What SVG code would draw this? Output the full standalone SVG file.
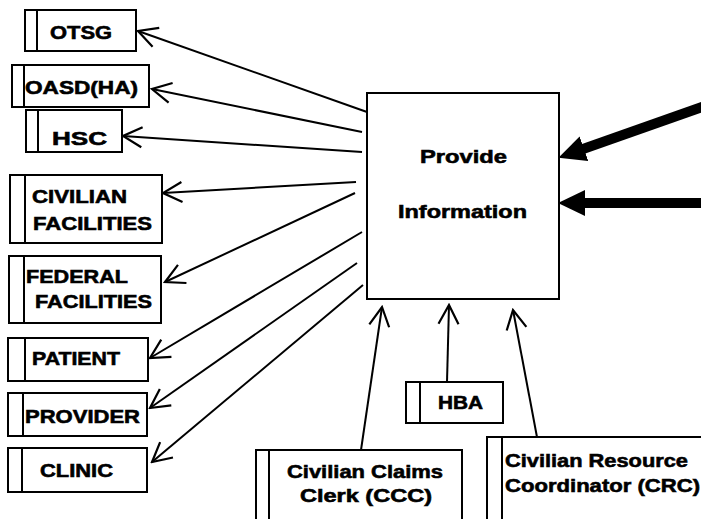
<svg xmlns="http://www.w3.org/2000/svg" width="701" height="519" viewBox="0 0 701 519">
<style>
.box{fill:#fff;stroke:#000;stroke-width:2}
.div{stroke:#000;stroke-width:2}
.t{font-family:"Liberation Sans",Arial,sans-serif;font-weight:bold;font-size:19px;fill:#000;stroke:#000;stroke-width:0.6}
.c{stroke:#000;stroke-width:2;fill:none;marker-end:url(#open)}
.thick{stroke:#000;stroke-width:10;fill:none;marker-end:url(#solid)}
</style>
<defs>
<marker id="open" markerUnits="userSpaceOnUse" markerWidth="22" markerHeight="24" viewBox="0 0 22 24" refX="20" refY="12" orient="auto">
<path d="M1,2 L20,12 L1,22" fill="none" stroke="#000" stroke-width="2.2"/>
</marker>
<marker id="solid" markerUnits="userSpaceOnUse" markerWidth="27" markerHeight="28" viewBox="0 0 27 28" refX="1" refY="14" orient="auto">
<path d="M0,1 L27,14 L0,27 z" fill="#000"/>
</marker>
</defs>
<rect width="701" height="519" fill="#fff"/>
<g id="connectors">
<path class="c" d="M367,112 L138,31"/>
<path class="c" d="M362,132 L152,89"/>
<path class="c" d="M362,152 L123,136"/>
<path class="c" d="M356,182 L163,193"/>
<path class="c" d="M355,193 L165,282"/>
<path class="c" d="M362,232 L150,358"/>
<path class="c" d="M357,263 L150,408"/>
<path class="c" d="M363,285 L152,462"/>
<path class="c" d="M361,450 L382,307"/>
<path class="c" d="M447,382 L449,305"/>
<path class="c" d="M537,437 L513,310"/>
<path class="thick" d="M705,106 L583,149"/>
<path class="thick" d="M705,203 L584,203"/>
</g>
<g id="provide">
<rect class="box" x="367" y="93" width="192" height="206"/>
<text class="t" x="420" y="163" textLength="87" lengthAdjust="spacingAndGlyphs">Provide</text>
<text class="t" x="398" y="218" textLength="129" lengthAdjust="spacingAndGlyphs">Information</text>
</g>
<g id="otsg">
<rect class="box" x="25" y="10" width="111" height="41"/><line class="div" x1="37" y1="10" x2="37" y2="51"/>
<text class="t" x="50" y="39" textLength="62" lengthAdjust="spacingAndGlyphs">OTSG</text>
</g>
<g id="oasd">
<rect class="box" x="12" y="65" width="137" height="42"/><line class="div" x1="24" y1="65" x2="24" y2="107"/>
<text class="t" x="25" y="94" textLength="113" lengthAdjust="spacingAndGlyphs">OASD(HA)</text>
</g>
<g id="hsc">
<rect class="box" x="26" y="110" width="96" height="42"/><line class="div" x1="38" y1="110" x2="38" y2="152"/>
<text class="t" x="52" y="145" textLength="55" lengthAdjust="spacingAndGlyphs">HSC</text>
</g>
<g id="civilian">
<rect class="box" x="10" y="175" width="152" height="68"/><line class="div" x1="25" y1="175" x2="25" y2="243"/>
<text class="t" x="32" y="203" textLength="95" lengthAdjust="spacingAndGlyphs">CIVILIAN</text>
<text class="t" x="33" y="230" textLength="119" lengthAdjust="spacingAndGlyphs">FACILITIES</text>
</g>
<g id="federal">
<rect class="box" x="9" y="256" width="152" height="67"/><line class="div" x1="24" y1="256" x2="24" y2="323"/>
<text class="t" x="26" y="283" textLength="102" lengthAdjust="spacingAndGlyphs">FEDERAL</text>
<text class="t" x="35" y="308" textLength="117" lengthAdjust="spacingAndGlyphs">FACILITIES</text>
</g>
<g id="patient">
<rect class="box" x="8" y="338" width="140" height="43"/><line class="div" x1="25" y1="338" x2="25" y2="381"/>
<text class="t" x="32" y="365" textLength="88" lengthAdjust="spacingAndGlyphs">PATIENT</text>
</g>
<g id="provider">
<rect class="box" x="8" y="393" width="139" height="43"/><line class="div" x1="23" y1="393" x2="23" y2="436"/>
<text class="t" x="25" y="423" textLength="115" lengthAdjust="spacingAndGlyphs">PROVIDER</text>
</g>
<g id="clinic">
<rect class="box" x="8" y="448" width="139" height="44"/><line class="div" x1="22" y1="448" x2="22" y2="492"/>
<text class="t" x="40" y="477" textLength="73" lengthAdjust="spacingAndGlyphs">CLINIC</text>
</g>
<g id="hba">
<rect class="box" x="406" y="382" width="97" height="41"/><line class="div" x1="420" y1="382" x2="420" y2="423"/>
<text class="t" x="438" y="409" textLength="45" lengthAdjust="spacingAndGlyphs">HBA</text>
</g>
<g id="ccc">
<rect class="box" x="256" y="450" width="206" height="80"/><line class="div" x1="269" y1="450" x2="269" y2="530"/>
<text class="t" x="287" y="478" textLength="156" lengthAdjust="spacingAndGlyphs">Civilian Claims</text>
<text class="t" x="300" y="502" textLength="132" lengthAdjust="spacingAndGlyphs">Clerk (CCC)</text>
</g>
<g id="crc">
<rect class="box" x="487" y="437" width="230" height="100"/><line class="div" x1="502" y1="437" x2="502" y2="537"/>
<text class="t" x="505" y="467" textLength="183" lengthAdjust="spacingAndGlyphs">Civilian Resource</text>
<text class="t" x="505" y="492" textLength="195" lengthAdjust="spacingAndGlyphs">Coordinator (CRC)</text>
</g>
</svg>
